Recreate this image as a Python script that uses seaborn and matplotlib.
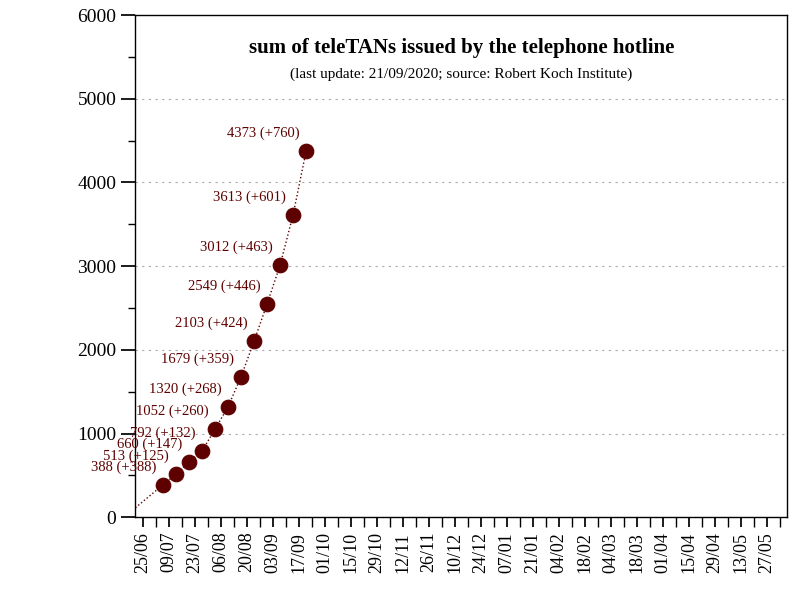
import matplotlib
matplotlib.use("Agg")
import matplotlib.pyplot as plt
import matplotlib.dates as mdates
import seaborn as sns
import pandas as pd

dates = ["2020-06-15", "2020-07-06", "2020-07-13", "2020-07-20", "2020-07-27", "2020-08-03",
         "2020-08-10", "2020-08-17", "2020-08-24", "2020-08-31", "2020-09-07",
         "2020-09-14", "2020-09-21"]
totals = [0, 388, 513, 660, 792, 1052, 1320, 1679, 2103, 2549, 3012, 3613, 4373]

df = pd.DataFrame({"date": pd.to_datetime(dates), "total": totals})
df["diff"] = df["total"].diff().fillna(0).astype(int)

sns.set_theme(style="white")
plt.rcParams["font.family"] = ["Liberation Serif", "DejaVu Serif"]
plt.rcParams["text.color"] = "black"
plt.rcParams["xtick.color"] = "black"
plt.rcParams["ytick.color"] = "black"
red = "#5e0000"

fig, ax = plt.subplots(figsize=(8, 6), dpi=100)
fig.subplots_adjust(left=0.169, right=0.984, top=0.975, bottom=0.138)

sns.lineplot(data=df, x="date", y="total", ax=ax, color=red, linestyle=":", linewidth=1)
pts = df.iloc[1:]
sns.scatterplot(data=pts, x="date", y="total", ax=ax, color=red, s=110, edgecolor=red, zorder=3)
for _, r in pts.iterrows():
    ax.annotate(f"{r['total']} (+{r['diff']})", (r["date"], r["total"]), xytext=(-5, 8),
                textcoords="offset points", ha="right", va="bottom", color=red, fontsize=10.5)

ax.set_xlim(pd.Timestamp("2020-06-21"), pd.Timestamp("2021-06-07"))
ax.set_ylim(0, 6000)
ax.set_xticks(pd.date_range("2020-06-25", "2021-06-05", freq="14D"))
ax.set_xticks(pd.date_range("2020-07-02", "2021-06-05", freq="14D"), minor=True)
ax.xaxis.set_major_formatter(mdates.DateFormatter("%d/%m"))
ax.set_yticks(range(0, 6001, 1000))
ax.set_yticks(range(500, 6000, 1000), minor=True)
ax.tick_params(axis="x", which="both", rotation=90, labelsize=13, bottom=True, length=7, direction="out")
ax.tick_params(axis="y", which="major", labelsize=14, left=True, length=10)
ax.tick_params(axis="y", which="minor", left=True, length=5)
ax.yaxis.grid(True, which="major", linestyle=(0, (2, 4)), color="#aaaaaa", linewidth=0.8)
for s in ax.spines.values():
    s.set_color("black")
    s.set_linewidth(1)
ax.set_xlabel("")
ax.set_ylabel("")

ax.text(0.5, 0.955, "sum of teleTANs issued by the telephone hotline", transform=ax.transAxes,
        ha="center", va="top", fontsize=15, fontweight="bold")
ax.text(0.5, 0.895, "(last update: 21/09/2020; source: Robert Koch Institute)", transform=ax.transAxes,
        ha="center", va="top", fontsize=11)

fig.savefig("out.png")
